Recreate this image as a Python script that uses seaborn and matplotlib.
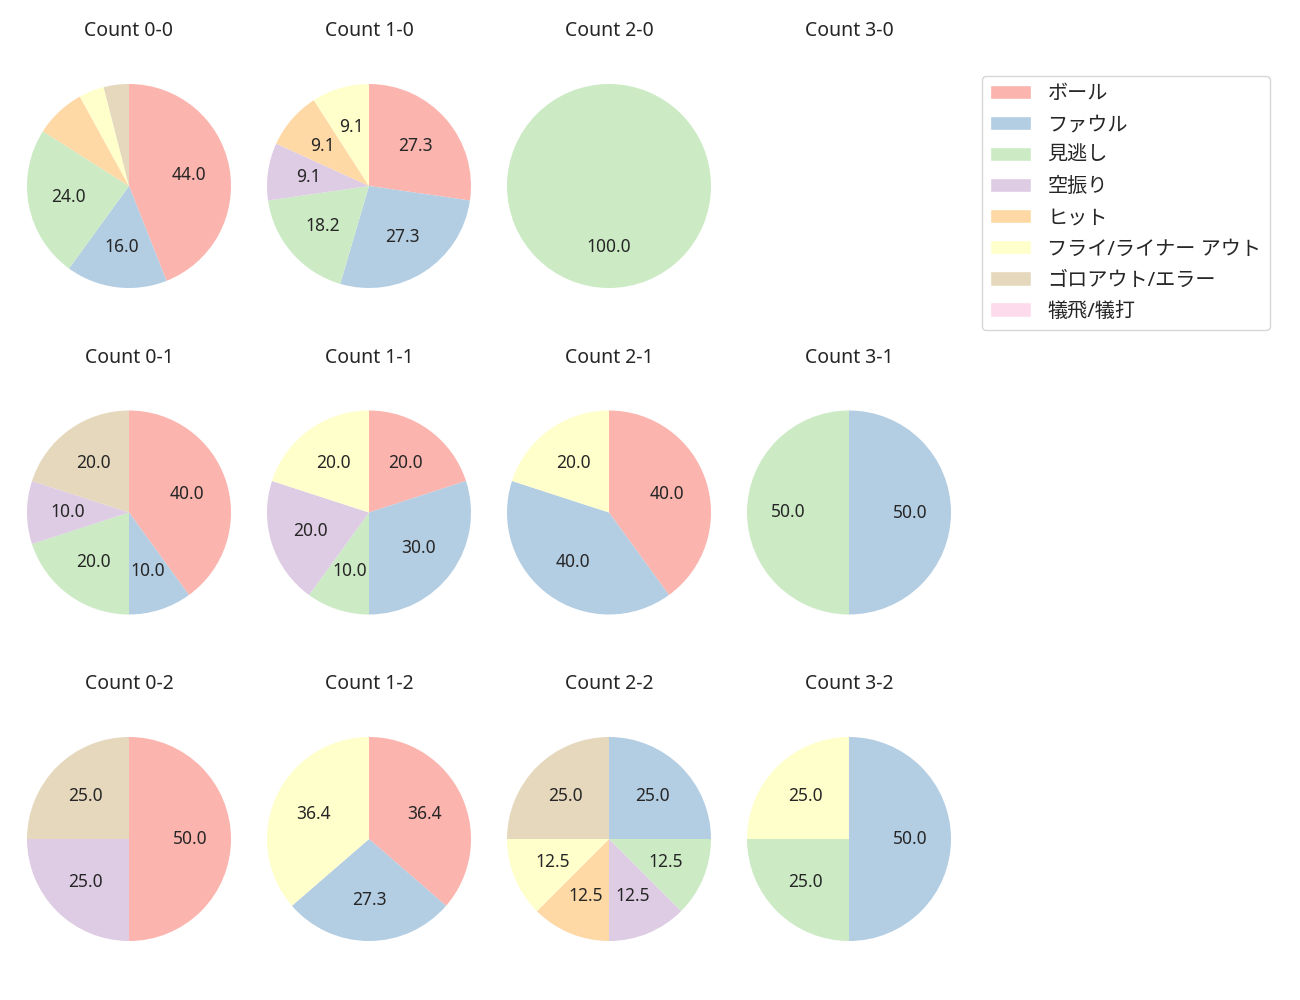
import numpy as np
import seaborn as sns
import matplotlib.pyplot as plt
from matplotlib.patches import Patch

sns.set_theme(style='white')
plt.rcParams['font.family'] = ['Noto Sans', 'Noto Sans CJK JP', 'DejaVu Sans']

# 球種結果のカテゴリ
categories = ['ボール', 'ファウル', '見逃し', '空振り', 'ヒット',
              'フライ/ライナー アウト', 'ゴロアウト/エラー', '犠飛/犠打']

# カウント別の件数 (categories の順)
c_0_0 = [11, 4, 6, 0, 2, 1, 1, 0]
c_1_0 = [3, 3, 2, 1, 1, 1, 0, 0]
c_2_0 = [0, 0, 1, 0, 0, 0, 0, 0]
c_3_0 = [0, 0, 0, 0, 0, 0, 0, 0]
c_0_1 = [4, 1, 2, 1, 0, 0, 2, 0]
c_1_1 = [2, 3, 1, 2, 0, 2, 0, 0]
c_2_1 = [2, 2, 0, 0, 0, 1, 0, 0]
c_3_1 = [0, 1, 1, 0, 0, 0, 0, 0]
c_0_2 = [2, 0, 0, 1, 0, 0, 1, 0]
c_1_2 = [4, 3, 0, 0, 0, 4, 0, 0]
c_2_2 = [0, 2, 1, 1, 1, 1, 2, 0]
c_3_2 = [0, 2, 1, 0, 0, 1, 0, 0]

count_data = {
    '0-0': c_0_0, '1-0': c_1_0, '2-0': c_2_0, '3-0': c_3_0,
    '0-1': c_0_1, '1-1': c_1_1, '2-1': c_2_1, '3-1': c_3_1,
    '0-2': c_0_2, '1-2': c_1_2, '2-2': c_2_2, '3-2': c_3_2,
}

colors = sns.color_palette('Pastel1', len(categories))

W, H = 1300, 1000
fig = plt.figure(figsize=(13, 10), dpi=100)

r_px = 102
size = 2.5 * r_px


def fmt_pct(p):
    return f'{p:.1f}' if p >= 9 else ''


for key, vals in count_data.items():
    balls, strikes = map(int, key.split('-'))
    cx = 129 + 240 * balls
    cy = 186 + 326.5 * strikes
    ax = fig.add_axes([(cx - size / 2) / W, 1 - (cy + size / 2) / H, size / W, size / H])
    vals = np.array(vals)
    if vals.sum() > 0:
        ax.pie(vals, colors=colors, startangle=90, counterclock=False,
               autopct=fmt_pct, textprops={'fontsize': 12.5},
               wedgeprops={'linewidth': 0})
    else:
        ax.set_xlim(-1.25, 1.25)
        ax.set_ylim(-1.25, 1.25)
    ax.axis('off')
    ax.set_title(f'Count {key}', fontsize=14, pad=16)

handles = [Patch(facecolor=c, label=l) for c, l in zip(colors, categories)]
fig.legend(handles=handles, loc='upper left', bbox_to_anchor=(982 / W, 1 - 76 / H),
           borderaxespad=0, fontsize=14.5, handlelength=2.05, labelspacing=0.55,
           frameon=True, edgecolor='#cccccc')

fig.savefig('out.png', dpi=100)
